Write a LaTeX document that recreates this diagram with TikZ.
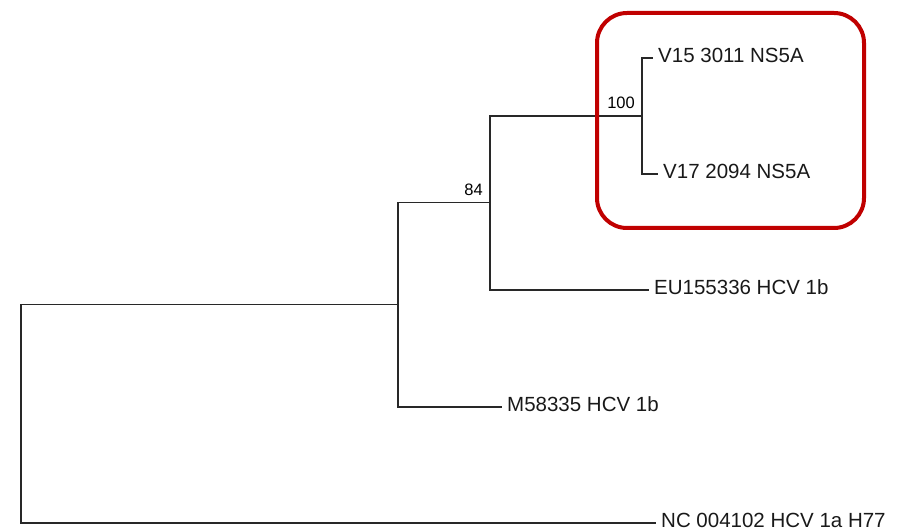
\documentclass[tikz,border=0pt]{standalone}
\usepackage{fontspec}
\setmainfont{Liberation Sans}
\usetikzlibrary{positioning}
\definecolor{boxred}{RGB}{192,0,0}
\definecolor{treeline}{RGB}{40,40,40}

\begin{document}
\begin{tikzpicture}[x=1pt, y=-1pt, every node/.style={font=\fontsize{20.5}{24}\selectfont}]
    \tikzset{branch/.style={draw=treeline, line width=1.5pt},
             leaf/.style={anchor=west, inner sep=5pt, text depth=5pt, text=black!90},
             boot/.style={anchor=south east, inner sep=7pt, font=\fontsize{16.5}{20}\selectfont},
             hilite/.style={draw=boxred, line width=4pt, rounded corners=30pt}}
    \useasboundingbox (0,0) rectangle (902,529);
    % internal nodes of the tree
    \coordinate (root) at (21,413.5);
    \coordinate (n2) at (398,304.5);
    \coordinate (n3) at (490,202.5);
    \coordinate (n4) at (642,116);
    % leaves
    \node[leaf] (v15) at (653,58)  {V15 3011 NS5A};
    \node[leaf] (v17) at (658,174) {V17 2094 NS5A};
    \node[leaf] (eu)  at (649,290) {EU155336 HCV 1b};
    \node[leaf] (m58) at (502,407) {M58335 HCV 1b};
    \node[leaf] (nc)  at (656,523) {NC 004102 HCV 1a H77};
    % bootstrap values
    \node[boot] (b4) at (n4) {100};
    \node[boot] (b3) at (n3) {84};
    \foreach \a/\b in {root/n2, n2/n3, n3/n4}
      \draw[branch] (\a) |- (\b);
    \foreach \a/\b in {n4/v15, n4/v17, n3/eu, n2/m58, root/nc}
      \draw[branch] (\a) |- (\b.west);
    \draw[hilite] (597,13) rectangle (864,228);
  \end{tikzpicture}
\end{document}
